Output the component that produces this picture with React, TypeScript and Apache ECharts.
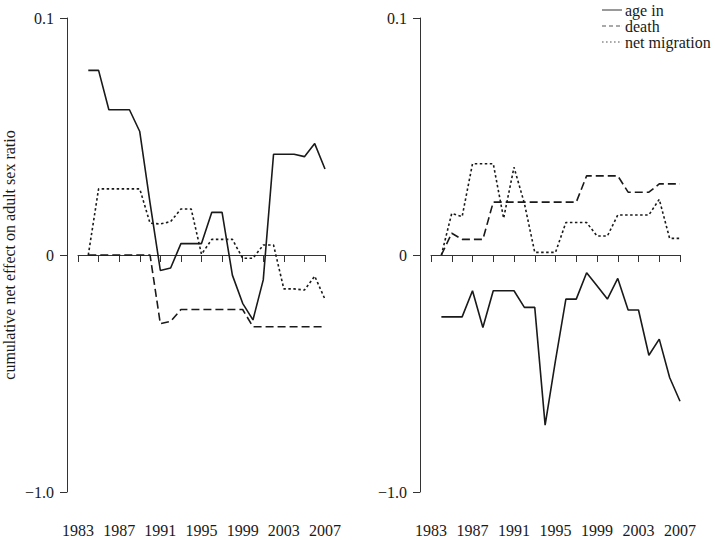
import React, { useEffect, useRef } from "react";
import * as echarts from "echarts";

const years = [1984, 1985, 1986, 1987, 1988, 1989, 1990, 1991, 1992, 1993, 1994, 1995, 1996, 1997, 1998, 1999, 2000, 2001, 2002, 2003, 2004, 2005, 2006, 2007];

// left panel
const leftAgeIn = [0.0779, 0.0779, 0.0613, 0.0613, 0.0613, 0.0521, 0.022, -0.0065, -0.0055, 0.0048, 0.0048, 0.0048, 0.018, 0.018, -0.0085, -0.0204, -0.0274, -0.0105, 0.0425, 0.0425, 0.0425, 0.0415, 0.047, 0.0363];
const leftDeath = [0, 0, 0, 0, 0, 0, 0, -0.029, -0.028, -0.023, -0.023, -0.023, -0.023, -0.023, -0.023, -0.023, -0.0303, -0.0303, -0.0303, -0.0303, -0.0303, -0.0303, -0.0303, -0.0303];
const leftMigration = [0, 0.0279, 0.0279, 0.0279, 0.0279, 0.0279, 0.0134, 0.0131, 0.0141, 0.0194, 0.0194, 0.0003, 0.0066, 0.0066, 0.0066, -0.0014, -0.0014, 0.0042, 0.0042, -0.0143, -0.0143, -0.0148, -0.0089, -0.0187];

// right panel
const rightAgeIn = [-0.0261, -0.0261, -0.0261, -0.0151, -0.0306, -0.0151, -0.0151, -0.0151, -0.0221, -0.0221, -0.0718, -0.0445, -0.0186, -0.0186, -0.0075, -0.013, -0.0186, -0.0099, -0.0232, -0.0232, -0.0423, -0.0355, -0.0517, -0.0617];
const rightDeath = [0, 0.0092, 0.0066, 0.0066, 0.0066, 0.0223, 0.0223, 0.0223, 0.0223, 0.0223, 0.0223, 0.0223, 0.0223, 0.0223, 0.0334, 0.0334, 0.0334, 0.0334, 0.0265, 0.0265, 0.0265, 0.030, 0.030, 0.030];
const rightMigration = [0, 0.0176, 0.0162, 0.0385, 0.0385, 0.0385, 0.0155, 0.037, 0.0218, 0.0011, 0.0011, 0.0011, 0.0137, 0.0137, 0.0137, 0.008, 0.008, 0.0169, 0.0169, 0.0169, 0.0169, 0.0235, 0.007, 0.007];

const seriesNames = ["age in", "death", "net migration"];
const yTickLabels: Record<string, string> = { "0.1": "0.1", "0": "0", "-0.1": "\u22121.0" };
const yLabel = "cumulative net effect on adult sex ratio";

const FONT = "'Liberation Serif', 'DejaVu Serif', serif";
const INK = "#1a1a1a";
const AXIS = "#333";

const legendIcons = [
  "path://M0 0H20V1.2H0Z",
  "path://M0 0H4V1.2H0ZM7 0H11V1.2H7ZM14 0H18V1.2H14ZM19.9 0H20V1.2H19.9Z",
  "path://M0 0H1.6V1.2H0ZM4 0H5.6V1.2H4ZM8 0H9.6V1.2H8ZM12 0H13.6V1.2H12ZM16 0H17.6V1.2H16ZM19.9 0H20V1.2H19.9Z",
];

export default function App() {
  const ref = useRef<HTMLDivElement>(null);
  useEffect(() => {
    if (!ref.current) return;
    const chart = echarts.init(ref.current, null, { renderer: "svg" });
    const pair = (vals: number[]) => years.map((y, i) => [y, vals[i]]);
    const lineStyles = [
      { color: INK, width: 1.6, type: "solid" as const },
      { color: INK, width: 1.6, type: [8, 4] as any },
      { color: INK, width: 1.6, type: [2.5, 2.5] as any },
    ];
    const panels = [
      [leftAgeIn, leftDeath, leftMigration],
      [rightAgeIn, rightDeath, rightMigration],
    ];
    const xAxisBase = (gi: number) => ({
      type: "value" as const,
      gridIndex: gi,
      min: 1983,
      max: 2007,
      interval: 2,
      offset: 19,
      splitLine: { show: false },
      axisLine: { show: true, lineStyle: { color: AXIS, width: 1 } },
      axisTick: { show: true, length: 7, lineStyle: { color: AXIS } },
      axisLabel: {
        color: INK,
        fontFamily: FONT,
        fontSize: 16,
        margin: 11,
        showMinLabel: true,
        showMaxLabel: true,
        formatter: (v: number) => ((v - 1983) % 4 === 0 ? String(v) : ""),
      },
    });
    const yAxisBase = (gi: number, withName: boolean) => ({
      type: "value" as const,
      gridIndex: gi,
      min: -0.1,
      max: 0.1,
      interval: 0.1,
      offset: 11,
      splitLine: { show: false },
      axisLine: { show: true, lineStyle: { color: AXIS, width: 1 } },
      axisTick: { show: true, length: 7, lineStyle: { color: AXIS } },
      axisLabel: {
        color: INK,
        fontFamily: FONT,
        fontSize: 16,
        margin: 13,
        formatter: (v: number) => yTickLabels[String(Math.round(v * 10) / 10)] ?? String(v),
      },
      name: withName ? yLabel : "",
      nameLocation: "middle" as const,
      nameRotate: 90,
      nameGap: 50,
      nameTextStyle: { color: INK, fontFamily: FONT, fontSize: 16 },
    });
    const series: any[] = [];
    panels.forEach((p, gi) => {
      p.forEach((vals, si) => {
        series.push({
          type: "line",
          name: seriesNames[si],
          xAxisIndex: gi,
          yAxisIndex: gi,
          data: pair(vals),
          symbol: "none",
          showSymbol: false,
          lineStyle: lineStyles[si],
          itemStyle: { color: "#555" },
        });
      });
    });
    chart.setOption({
      animation: false,
      backgroundColor: "#fff",
      textStyle: { fontFamily: FONT },
      grid: [
        { left: 76, top: 18, width: 249, height: 474 },
        { left: 431, top: 18, width: 249, height: 474 },
      ],
      xAxis: [xAxisBase(0), xAxisBase(1)],
      yAxis: [yAxisBase(0, true), yAxisBase(1, false)],
      legend: {
        show: true,
        data: seriesNames.map((n, i) => ({ name: n, icon: legendIcons[i] })),
        orient: "vertical",
        left: 602,
        top: 2,
        padding: 0,
        itemWidth: 20,
        itemHeight: 2,
        itemGap: 0,
        selectedMode: false,
        itemStyle: { color: "#555", borderWidth: 0 },
        textStyle: { color: INK, fontFamily: FONT, fontSize: 16, padding: [0, 0, 0, -2], lineHeight: 16 },
      },
      series,
    });
    return () => chart.dispose();
  }, []);
  return (
    <div
      ref={ref}
      style={{ position: "fixed", left: 0, top: 0, width: 715, height: 540 }}
    />
  );
}
